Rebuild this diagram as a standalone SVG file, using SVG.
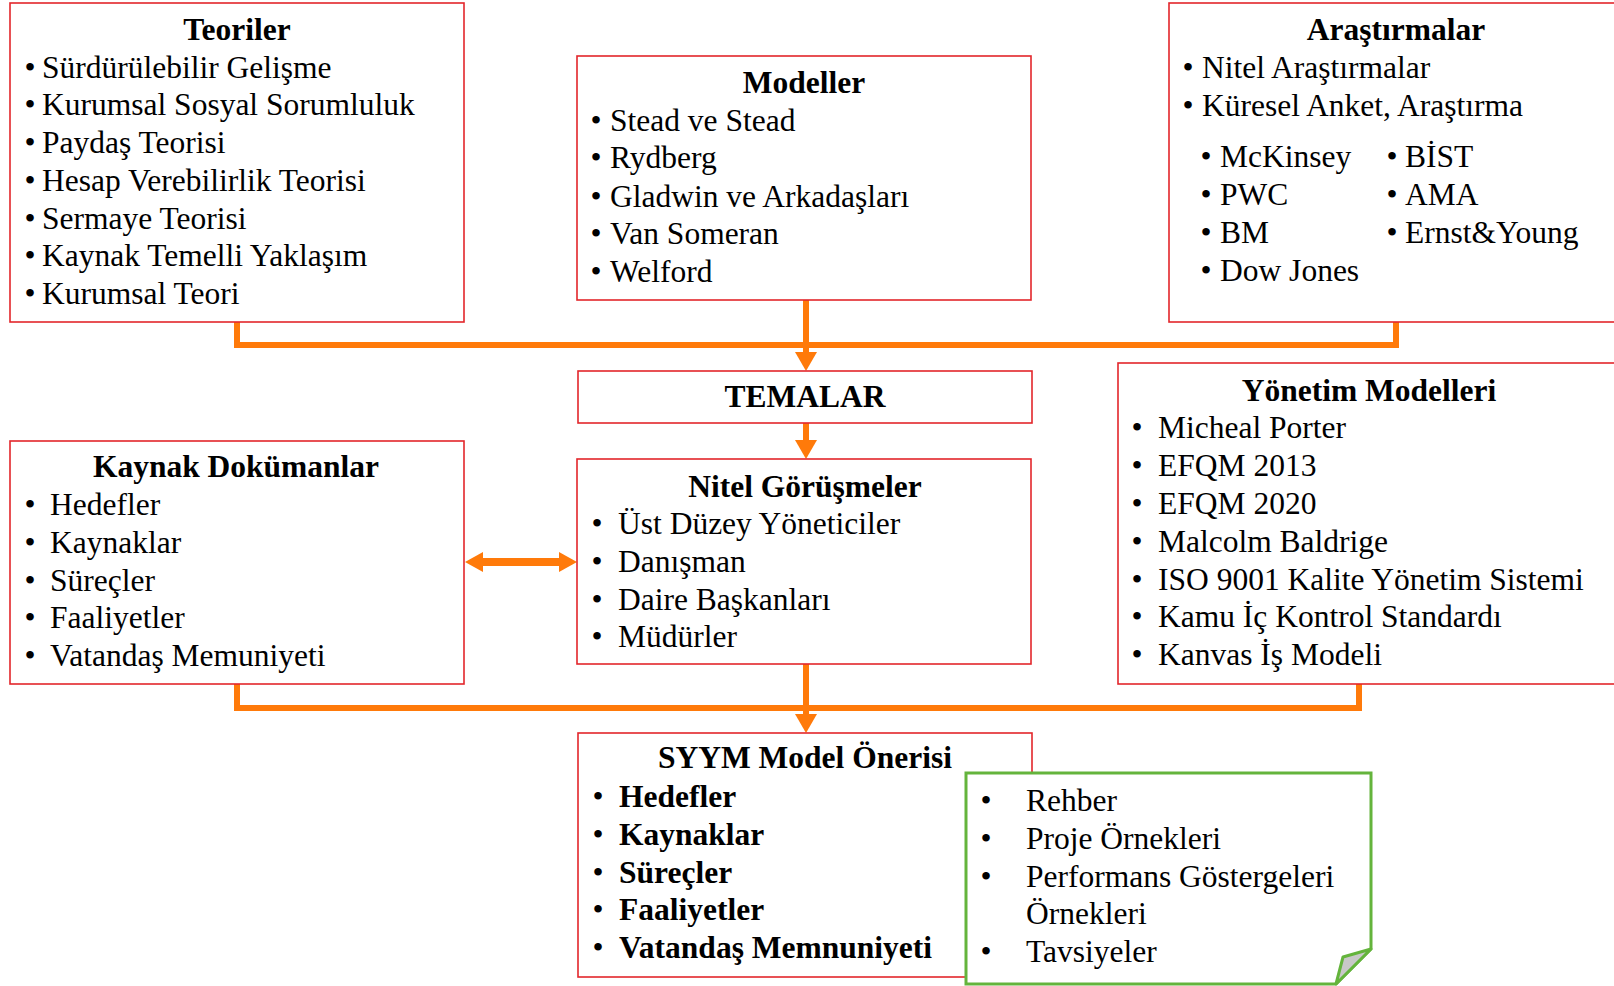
<svg xmlns="http://www.w3.org/2000/svg" width="1614" height="986" viewBox="0 0 1614 986">
<style>
text{font-family:"Liberation Serif","Times New Roman",serif;font-size:31.5px;fill:#000}
.t{font-weight:bold;text-anchor:middle}
.b{text-anchor:middle}
.bold{font-weight:bold}
.box{fill:#fff;stroke:#E3262B;stroke-width:1.6}
.note{fill:#fff;stroke:#64B43C;stroke-width:3}
.fold{fill:#C8C8C8;stroke:#64B43C;stroke-width:3;stroke-linejoin:round}
.con{fill:none;stroke:#FF7A0A;stroke-width:6}
.dbl{fill:none;stroke:#FF7A0A;stroke-width:8}
</style>
<defs>
<marker id="ah" markerUnits="userSpaceOnUse" markerWidth="20" markerHeight="22" refX="0" refY="11" orient="auto"><path d="M0,0 L19,11 L0,22 Z" fill="#FF7A0A"/></marker>
<marker id="ah2" markerUnits="userSpaceOnUse" markerWidth="19" markerHeight="20" refX="0" refY="10" orient="auto-start-reverse"><path d="M0,0 L18,10 L0,20 Z" fill="#FF7A0A"/></marker>
</defs>
<g id="connectors">
<path class="con" d="M237,322 V345 H1396 V322"/>
<path class="con" d="M806,300 V352" marker-end="url(#ah)"/>
<path class="con" d="M806,423 V440" marker-end="url(#ah)"/>
<path class="con" d="M237,684 V708 H1359 V684"/>
<path class="con" d="M806,664 V714" marker-end="url(#ah)"/>
<path class="dbl" d="M483,562 H559" marker-start="url(#ah2)" marker-end="url(#ah2)"/>
</g>
<g id="teoriler">
<rect class="box" x="10" y="3" width="454" height="319"/>
<text class="t" x="237" y="40">Teoriler</text>
<text class="b" x="30" y="77.5">•</text><text x="42" y="77.5">Sürdürülebilir Gelişme</text>
<text class="b" x="30" y="115.3">•</text><text x="42" y="115.3">Kurumsal Sosyal Sorumluluk</text>
<text class="b" x="30" y="153">•</text><text x="42" y="153">Paydaş Teorisi</text>
<text class="b" x="30" y="190.8">•</text><text x="42" y="190.8">Hesap Verebilirlik Teorisi</text>
<text class="b" x="30" y="228.6">•</text><text x="42" y="228.6">Sermaye Teorisi</text>
<text class="b" x="30" y="266.4">•</text><text x="42" y="266.4">Kaynak Temelli Yaklaşım</text>
<text class="b" x="30" y="304">•</text><text x="42" y="304">Kurumsal Teori</text>
</g>
<g id="modeller">
<rect class="box" x="577" y="56" width="454" height="244"/>
<text class="t" x="804" y="93">Modeller</text>
<text class="b" x="596" y="130.7">•</text><text x="610" y="130.7">Stead ve Stead</text>
<text class="b" x="596" y="168">•</text><text x="610" y="168">Rydberg</text>
<text class="b" x="596" y="206.5">•</text><text x="610" y="206.5">Gladwin ve Arkadaşları</text>
<text class="b" x="596" y="244">•</text><text x="610" y="244">Van Someran</text>
<text class="b" x="596" y="281.7">•</text><text x="610" y="281.7">Welford</text>
</g>
<g id="arastirmalar">
<rect class="box" x="1169" y="3" width="460" height="319"/>
<text class="t" x="1396" y="40">Araştırmalar</text>
<text class="b" x="1188" y="77.5">•</text><text x="1202" y="77.5">Nitel Araştırmalar</text>
<text class="b" x="1188" y="115.5">•</text><text x="1202" y="115.5">Küresel Anket, Araştırma</text>
<text class="b" x="1206" y="167">•</text><text x="1220" y="167">McKinsey</text>
<text class="b" x="1206" y="205">•</text><text x="1220" y="205">PWC</text>
<text class="b" x="1206" y="243">•</text><text x="1220" y="243">BM</text>
<text class="b" x="1206" y="281">•</text><text x="1220" y="281">Dow Jones</text>
<text class="b" x="1392" y="167">•</text><text x="1405" y="167">BİST</text>
<text class="b" x="1392" y="205">•</text><text x="1405" y="205">AMA</text>
<text class="b" x="1392" y="243">•</text><text x="1405" y="243">Ernst&amp;Young</text>
</g>
<g id="temalar">
<rect class="box" x="578" y="371" width="454" height="52"/>
<text class="t" x="805" y="407">TEMALAR</text>
</g>
<g id="kaynak-dokumanlar">
<rect class="box" x="10" y="441" width="454" height="243"/>
<text class="t" x="236" y="477">Kaynak Dokümanlar</text>
<text class="b" x="30" y="515">•</text><text x="50" y="515">Hedefler</text>
<text class="b" x="30" y="553">•</text><text x="50" y="553">Kaynaklar</text>
<text class="b" x="30" y="591">•</text><text x="50" y="591">Süreçler</text>
<text class="b" x="30" y="628">•</text><text x="50" y="628">Faaliyetler</text>
<text class="b" x="30" y="666">•</text><text x="50" y="666">Vatandaş Memuniyeti</text>
</g>
<g id="nitel-gorusmeler">
<rect class="box" x="577" y="459" width="454" height="205"/>
<text class="t" x="805" y="497">Nitel Görüşmeler</text>
<text class="b" x="597" y="534">•</text><text x="618" y="534">Üst Düzey Yöneticiler</text>
<text class="b" x="597" y="572">•</text><text x="618" y="572">Danışman</text>
<text class="b" x="597" y="610">•</text><text x="618" y="610">Daire Başkanları</text>
<text class="b" x="597" y="647">•</text><text x="618" y="647">Müdürler</text>
</g>
<g id="yonetim-modelleri">
<rect class="box" x="1118" y="363" width="510" height="321"/>
<text class="t" x="1369" y="401">Yönetim Modelleri</text>
<text class="b" x="1137" y="438">•</text><text x="1158" y="438">Micheal Porter</text>
<text class="b" x="1137" y="476">•</text><text x="1158" y="476">EFQM 2013</text>
<text class="b" x="1137" y="514">•</text><text x="1158" y="514">EFQM 2020</text>
<text class="b" x="1137" y="551.5">•</text><text x="1158" y="551.5">Malcolm Baldrige</text>
<text class="b" x="1137" y="589.5">•</text><text x="1158" y="589.5">ISO 9001 Kalite Yönetim Sistemi</text>
<text class="b" x="1137" y="627">•</text><text x="1158" y="627">Kamu İç Kontrol Standardı</text>
<text class="b" x="1137" y="665">•</text><text x="1158" y="665">Kanvas İş Modeli</text>
</g>
<g id="syym-model-onerisi">
<rect class="box" x="578" y="733" width="454" height="244"/>
<text class="t" x="805" y="768">SYYM Model Önerisi</text>
<text class="b" x="598" y="807">•</text><text class="bold" x="619" y="807">Hedefler</text>
<text class="b" x="598" y="845">•</text><text class="bold" x="619" y="845">Kaynaklar</text>
<text class="b" x="598" y="883">•</text><text class="bold" x="619" y="883">Süreçler</text>
<text class="b" x="598" y="920">•</text><text class="bold" x="619" y="920">Faaliyetler</text>
<text class="b" x="598" y="958">•</text><text class="bold" x="619" y="958">Vatandaş Memnuniyeti</text>
</g>
<g id="ciktilar-notu">
<path class="note" d="M966,773 H1371 V949 L1336,984 H966 Z"/>
<path class="fold" d="M1371,949 L1343,957 L1336,984 Z"/>
<text class="b" x="986" y="811">•</text><text x="1026" y="811">Rehber</text>
<text class="b" x="986" y="849">•</text><text x="1026" y="849">Proje Örnekleri</text>
<text class="b" x="986" y="887">•</text><text x="1026" y="887">Performans Göstergeleri</text>
<text x="1026" y="924">Örnekleri</text>
<text class="b" x="986" y="961.5">•</text><text x="1026" y="961.5">Tavsiyeler</text>
</g>
</svg>
